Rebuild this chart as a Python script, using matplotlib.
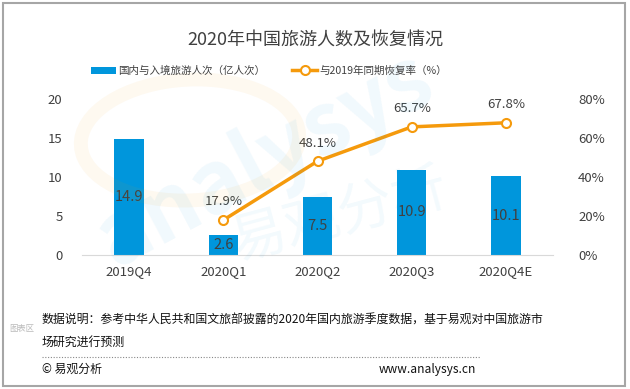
import matplotlib.pyplot as plt
import matplotlib.patches as patches
import matplotlib.ticker as ticker
import numpy as np

plt.rcParams['font.family'] = ['Noto Sans CJK SC', 'DejaVu Sans']

quarters = ['2019Q4', '2020Q1', '2020Q2', '2020Q3', '2020Q4E']
visitors = [14.9, 2.6, 7.5, 10.9, 10.1]          # 亿人次
recovery_q = ['2020Q1', '2020Q2', '2020Q3', '2020Q4E']
recovery = [17.9, 48.1, 65.7, 67.8]                # %

bar_color = '#0096DC'
line_color = '#F59A0C'
text_color = '#404040'

fig = plt.figure(figsize=(6.3, 3.89), dpi=100)
W, H = 630, 389

ax = fig.add_axes([82 / W, 1 - 255 / H, (553 - 82) / W, (255 - 99) / H])
ax2 = ax.twinx()

x = np.arange(len(quarters))
bars = ax.bar(x, visitors, width=0.31, color=bar_color, zorder=2,
              label='国内与入境旅游人次（亿人次）')
for xi, v in zip(x, visitors):
    ax.text(xi, v / 2, f'{v}', ha='center', va='center', fontsize=10.5, color=text_color, zorder=3)

xr = [quarters.index(q) for q in recovery_q]
ax2.plot(xr, recovery, color=line_color, lw=2.5, marker='o', ms=6.5,
         mfc='white', mec=line_color, mew=1.5, zorder=4,
         label='与2019年同期恢复率（%）')
for xi, v in zip(xr, recovery):
    ax2.text(xi, v + 6, f'{v}%', ha='center', va='bottom', fontsize=9.5, color=text_color)

ax.set_xlim(-0.5, len(quarters) - 0.5)
ax.set_ylim(0, 20)
ax.set_yticks([0, 5, 10, 15, 20])
ax2.set_ylim(0, 80)
ax2.set_yticks([0, 20, 40, 60, 80])
ax2.yaxis.set_major_formatter(ticker.FuncFormatter(lambda v, p: f'{v:.0f}%'))
ax.set_xticks(x)
ax.set_xticklabels(quarters)

for a in (ax, ax2):
    for s in a.spines.values():
        s.set_visible(False)
    a.tick_params(length=0, labelsize=9.5, colors=text_color)
ax.spines['bottom'].set_visible(True)
ax.spines['bottom'].set_color('#D9D9D9')
ax.tick_params(axis='y', pad=14)
ax2.tick_params(axis='y', pad=18)
ax.tick_params(axis='x', pad=7)

# watermark
fig.text(265 / W, 1 - 160 / H, 'analysys', fontsize=62, color='#0096DC', alpha=0.06,
         rotation=28, ha='center', va='center', fontweight='bold')
fig.text(340 / W, 1 - 215 / H, '易观分析', fontsize=40, color='#0096DC', alpha=0.05,
         rotation=15, ha='center', va='center')
fig.patches.append(patches.Ellipse((190 / W, 1 - 140 / H), 220 / W, 120 / H, angle=15,
                                   fill=False, ec='#F59A0C', lw=10, alpha=0.06,
                                   transform=fig.transFigure))

# title and legend
fig.text(0.5, 1 - 40 / H, '2020年中国旅游人数及恢复情况', ha='center', va='center',
         fontsize=13, color=text_color)
h1, l1 = ax.get_legend_handles_labels()
h2, l2 = ax2.get_legend_handles_labels()
fig.legend(h1 + h2, l1 + l2, loc='center left', bbox_to_anchor=(91 / W, 1 - 71 / H), ncol=2,
           frameon=False, fontsize=7.6, labelcolor=text_color, handlelength=2.4,
           handleheight=0.7, columnspacing=2.5, handletextpad=0.2,
           borderpad=0, borderaxespad=0)

# footer
fig.text(42 / W, 1 - 320 / H, '数据说明：参考中华人民共和国文旅部披露的2020年国内旅游季度数据，基于易观对中国旅游市',
         fontsize=8.6, color='#111111', va='center')
fig.text(42 / W, 1 - 342 / H, '场研究进行预测', fontsize=8.6, color='#111111', va='center')
fig.add_artist(plt.Line2D([42 / W, 480 / W], [1 - 357 / H, 1 - 357 / H], color='#888888',
                          lw=0.8, ls=(0, (1, 1.5))))
fig.text(42 / W, 1 - 369 / H, '© 易观分析', fontsize=8.6, color='#111111', va='center')
fig.text(476 / W, 1 - 369 / H, 'www.analysys.cn', fontsize=8.6, color='#111111',
         va='center', ha='right')
fig.text(22 / W, 1 - 329 / H, '图表区', fontsize=6, color='#BBBBBB', va='center', ha='center')

fig.patches.append(patches.Rectangle((3 / W, 3 / H), 622 / W, 383 / H, fill=False,
                                     ec='#A6A6A6', lw=1.5, transform=fig.transFigure))

fig.savefig('out.png', dpi=100)
